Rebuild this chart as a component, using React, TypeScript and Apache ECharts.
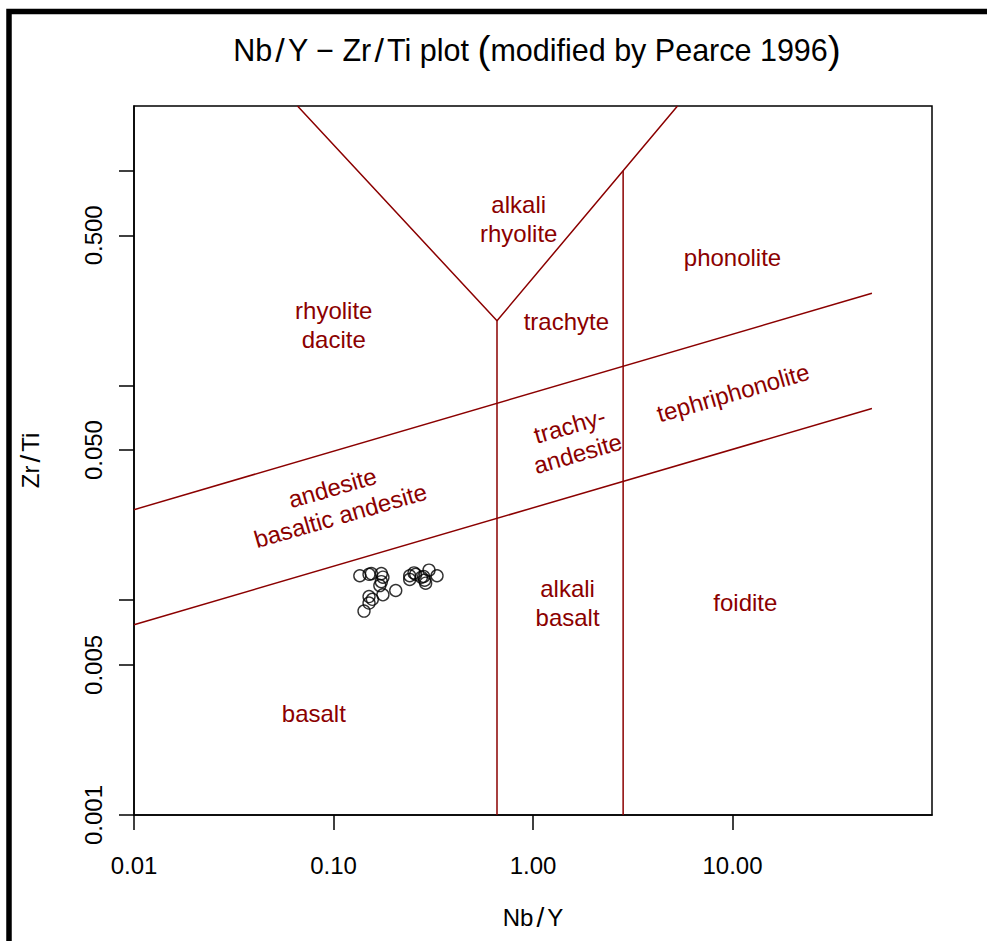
import React, { useEffect, useRef } from "react";
import * as echarts from "echarts";

// ---- axis ticks / labels ----
const xTickValues = [0.01, 0.1, 1, 10];
const yTickValues = [0.001, 0.005, 0.01, 0.05, 0.1, 0.5, 1];
const yLabelValues = [0.001, 0.005, 0.05, 0.5];

// ---- samples (Nb/Y, Zr/Ti) ----
const sampleNbY = [
  0.1355, 0.1507, 0.1548, 0.1737, 0.1769, 0.1737, 0.1707, 0.2051, 0.1769, 0.1507, 0.1566, 0.1507,
  0.1422, 0.241, 0.241, 0.2533, 0.2582, 0.2759, 0.2864, 0.2897, 0.3011, 0.3303, 0.2831,
];
const sampleZrTi = [
  0.013, 0.0132, 0.0133, 0.0133, 0.0128, 0.0122, 0.0117, 0.0111, 0.0106, 0.0104, 0.0101, 0.0097,
  0.0089, 0.013, 0.0125, 0.0134, 0.0132, 0.0128, 0.0124, 0.012, 0.0138, 0.013, 0.0129,
];

// ---- field boundaries ----
const lowerLineX = [0.01, 50];
const lowerLineY = [0.00769, 0.0781];
const upperLineX = [0.01, 50];
const upperLineY = [0.0264, 0.2686];
const vShapeX = [0.066, 0.66, 2.83, 5.3];
const vShapeY = [2, 0.2, 1.0, 2];
const subAlkX = [0.66, 0.66];
const subAlkY = [0.2, 0.001];
const ultraAlkX = [2.83, 2.83];
const ultraAlkY = [1.0, 0.001];

// ---- field names ----
const fieldNames = [
  "alkali\nrhyolite",
  "phonolite",
  "rhyolite\ndacite",
  "trachyte",
  "trachy-\nandesite",
  "tephriphonolite",
  "andesite\nbasaltic andesite",
  "alkali\nbasalt",
  "foidite",
  "basalt",
];
const fieldX = [0.848, 10.0, 0.1003, 1.47, 1.6, 10.07, 0.1035, 1.49, 11.6, 0.0797];
const fieldY = [0.594, 0.395, 0.192, 0.199, 0.056, 0.0925, 0.0288, 0.00973, 0.00973, 0.00296];
const fieldAngle = [0, 0, 0, 0, 16, 16, 16, 0, 0, 0];

const DARKRED = "#8B0000";
const FONT = "'Liberation Sans', Arial, Helvetica, sans-serif";

const zip = (xs: number[], ys: number[]) => xs.map((x, i) => [x, ys[i]]);

export default function App() {
  const ref = useRef<HTMLDivElement>(null);
  useEffect(() => {
    if (!ref.current) return;
    const chart = echarts.init(ref.current, undefined, { renderer: "svg" });
    const boundary = (name: string, xs: number[], ys: number[]) => ({
      type: "line",
      name,
      data: zip(xs, ys),
      symbol: "none",
      silent: true,
      clip: true,
      lineStyle: { color: DARKRED, width: 1.5 },
      z: 2,
    });
    const slashRich = { fontFamily: FONT, fontSize: 28, color: "#000", padding: [0, 3] };
    chart.setOption({
      animation: false,
      backgroundColor: "#ffffff",
      textStyle: { fontFamily: FONT },
      title: {
        text: "Nb{s|/}Y \u2212 Zr{s|/}Ti plot {p|(}modified by Pearce 1996{p|)}",
        left: 532,
        top: 25,
        textAlign: "center",
        textStyle: {
          fontFamily: FONT,
          fontSize: 30.5,
          fontWeight: "normal",
          color: "#000",
          rich: {
            p: { fontFamily: FONT, fontSize: 39, color: "#000" },
            s: { fontFamily: FONT, fontSize: 34, color: "#000", padding: [0, 3] },
          },
        },
      },
      graphic: [
        {
          type: "rect",
          shape: { x: 9, y: 11.5, width: 1400, height: 1400 },
          style: { fill: "none", stroke: "#000", lineWidth: 5.5 },
          silent: true,
        },
      ],
      grid: {
        left: 134,
        right: 55,
        top: 106,
        bottom: 126,
        show: true,
        borderColor: "#000",
        borderWidth: 1.5,
        backgroundColor: "transparent",
      },
      xAxis: {
        type: "log",
        logBase: 10,
        min: 0.01,
        max: 100,
        name: "Nb{s|/}Y",
        nameLocation: "middle",
        nameGap: 88,
        nameTextStyle: {
          fontFamily: FONT,
          fontSize: 24,
          color: "#000",
          rich: { s: slashRich },
        },
        axisLine: { show: true, lineStyle: { color: "#000", width: 1.5 } },
        axisTick: {
          show: true,
          inside: false,
          length: 15,
          customValues: xTickValues,
          lineStyle: { color: "#000", width: 1.5 },
        },
        axisLabel: {
          show: true,
          customValues: xTickValues,
          margin: 38,
          fontFamily: FONT,
          fontSize: 24,
          color: "#000",
          formatter: (v: number) => Number(v).toFixed(2),
        },
        splitLine: { show: false },
        minorTick: { show: false },
      },
      yAxis: {
        type: "log",
        logBase: 10,
        min: 0.001,
        max: 2,
        name: "Zr{s|/}Ti",
        nameLocation: "middle",
        nameGap: 90,
        nameRotate: 90,
        nameTextStyle: {
          fontFamily: FONT,
          fontSize: 24,
          color: "#000",
          rich: { s: slashRich },
        },
        axisLine: { show: true, lineStyle: { color: "#000", width: 1.5 } },
        axisTick: {
          show: true,
          inside: false,
          length: 15,
          customValues: yTickValues,
          lineStyle: { color: "#000", width: 1.5 },
        },
        axisLabel: {
          show: true,
          customValues: yLabelValues,
          rotate: 90,
          margin: 29,
          fontFamily: FONT,
          fontSize: 24,
          color: "#000",
          formatter: (v: number) => Number(v).toFixed(3),
        },
        splitLine: { show: false },
        minorTick: { show: false },
      },
      series: [
        boundary("lower", lowerLineX, lowerLineY),
        boundary("upper", upperLineX, upperLineY),
        boundary("vshape", vShapeX, vShapeY),
        boundary("subalkaline", subAlkX, subAlkY),
        boundary("ultraalkaline", ultraAlkX, ultraAlkY),
        {
          type: "scatter",
          name: "fields",
          silent: true,
          symbolSize: 0,
          z: 3,
          data: fieldNames.map((n, i) => ({
            name: n,
            value: [fieldX[i], fieldY[i]],
            label: { rotate: fieldAngle[i] },
          })),
          label: {
            show: true,
            position: "inside",
            formatter: "{b}",
            color: DARKRED,
            opacity: 1,
            textBorderWidth: 0,
            textShadowBlur: 0,
            fontFamily: FONT,
            fontSize: 24,
            lineHeight: 29,
            align: "center",
            verticalAlign: "middle",
          },
        },
        {
          type: "scatter",
          name: "samples",
          symbol: "circle",
          symbolSize: 12,
          z: 4,
          data: zip(sampleNbY, sampleZrTi),
          itemStyle: { color: "rgba(0,0,0,0)", borderColor: "#000", borderWidth: 1.4 },
        },
      ],
    });
    return () => chart.dispose();
  }, []);
  return (
    <div
      ref={ref}
      style={{ position: "fixed", left: 0, top: 0, width: 987, height: 941, background: "#fff" }}
    />
  );
}
